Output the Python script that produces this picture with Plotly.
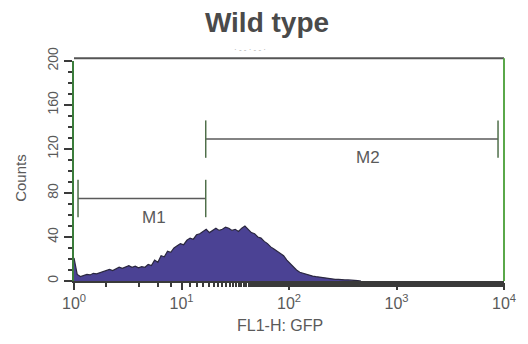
import numpy as np
import plotly.graph_objects as go

# ---- data ----
title_text = "Wild type"
x_label = "FL1-H: GFP"
y_label = "Counts"

# histogram counts on log-spaced channels (log10 start 0, step 0.03)
log_start = 0.0
log_step = 0.03
counts = [21, 6, 4, 5, 6, 5.5, 7, 6.5, 7.5, 8,
          9, 10.5, 9.5, 11, 12.5, 11.5, 13, 14, 12.5, 13.5,
          12, 13, 12.5, 15, 14, 19, 17, 23, 22, 27,
          26, 30, 32, 34, 33, 37, 39, 38, 42, 43,
          45, 47, 44, 46, 48, 46, 47, 49, 48, 46,
          47, 45, 48, 50, 47, 44, 43, 40, 39, 36,
          34, 31, 29, 27, 25, 23, 19, 16, 13, 10,
          8, 7, 6, 5, 4.5, 4, 3.5, 3, 2.5, 2,
          2, 1.5, 1.5, 1, 1, 1, 0.5, 0.5, 0.3, 0]

gate_names = ["M1", "M2"]
gate_lo = [1.09, 16.8]
gate_hi = [16.8, 8800]
gate_y = [75, 129]
gate_label_x = [5.5, 540]
gate_label_y = [58, 112]

x_tickvals = [1, 10, 100, 1000, 10000]
x_ticktext = ["10<sup>0</sup>", "10<sup>1</sup>", "10<sup>2</sup>", "10<sup>3</sup>", "10<sup>4</sup>"]
y_tickvals = [0, 40, 80, 120, 160, 200]

# ---- figure ----
fl1 = 10 ** (log_start + log_step * np.arange(len(counts)))

fig = go.Figure()
fig.add_trace(go.Scatter(
    x=fl1, y=counts, mode="lines", fill="tozeroy",
    fillcolor="#4b4294", line=dict(color="#2b2840", width=1.2),
    showlegend=False, hoverinfo="skip"))

gray = "#5a5a5a"
font_family = "Liberation Sans, Arial"
tick_half = 17
for lo, hi, gy, name, lx, ly in zip(gate_lo, gate_hi, gate_y, gate_names, gate_label_x, gate_label_y):
    fig.add_trace(go.Scatter(x=[lo, hi], y=[gy, gy], mode="lines",
                             line=dict(color=gray, width=1.5), showlegend=False, hoverinfo="skip"))
    for xv in (lo, hi):
        fig.add_trace(go.Scatter(x=[xv, xv], y=[gy - tick_half, gy + tick_half], mode="lines",
                                 line=dict(color="#4f6f4a", width=1.5), showlegend=False, hoverinfo="skip"))
    fig.add_annotation(x=np.log10(lx), y=ly, text=name, showarrow=False,
                       font=dict(family=font_family, size=17, color=gray))

fig.add_annotation(xref="paper", yref="paper", x=-0.125, y=0.47, text=y_label,
                   xanchor="center", yanchor="middle",
                   textangle=-90, showarrow=False,
                   font=dict(family=font_family, size=15, color=gray))
fig.add_annotation(xref="paper", yref="paper", x=0.478, y=-0.2, text=x_label,
                   xanchor="center", yanchor="middle", showarrow=False,
                   font=dict(family=font_family, size=16, color=gray))
fig.add_annotation(xref="paper", yref="paper", x=0.41, y=1.05, text="· - - · - - ·",
                   xanchor="center", yanchor="middle",
                   showarrow=False, font=dict(family=font_family, size=8, color="#aaaaaa"))

# frame top and right
fig.add_shape(type="line", xref="paper", yref="paper", x0=0, x1=1, y0=1.012, y1=1.012,
              line=dict(color="#555555", width=2))
fig.add_shape(type="line", xref="paper", yref="paper", x0=1, x1=1, y0=0, y1=1.012,
              line=dict(color="#5aa84a", width=2))

fig.update_layout(
    width=528, height=344,
    margin=dict(l=74, r=21, t=61, b=63),
    paper_bgcolor="white", plot_bgcolor="white",
    title=dict(text="<b>" + title_text + "</b>", x=267 / 528, xanchor="center",
               y=1 - 22 / 344, yanchor="middle",
               font=dict(family=font_family, size=28, color="#4a4a4a")),
    xaxis=dict(type="log", range=[0, 4], tickvals=x_tickvals, ticktext=x_ticktext,
               showgrid=False, zeroline=False, showline=True, linecolor="#3a3a3a", linewidth=2,
               ticks="outside", ticklen=7, tickcolor="#3a3a3a", tickwidth=1.5,
               minor=dict(ticks="outside", ticklen=4, tickcolor="#3a3a3a", tickwidth=1.5, showgrid=False),
               tickfont=dict(family=font_family, size=16, color=gray)),
    yaxis=dict(range=[0, 200], tickvals=y_tickvals, tickangle=-90,
               showgrid=False, zeroline=False, showline=True, linecolor="#3b7d3b", linewidth=2,
               ticks="outside", ticklen=8, tickcolor="#3a3a3a", tickwidth=1.5,
               minor=dict(dtick=10, ticks="outside", ticklen=4, tickcolor="#3a3a3a", tickwidth=1.5, showgrid=False),
               tickfont=dict(family=font_family, size=14, color=gray)),
)

fig.write_html("out.html", config={"displayModeBar": False},
               post_script="document.body.style.margin='0';document.body.style.overflow='hidden';")
